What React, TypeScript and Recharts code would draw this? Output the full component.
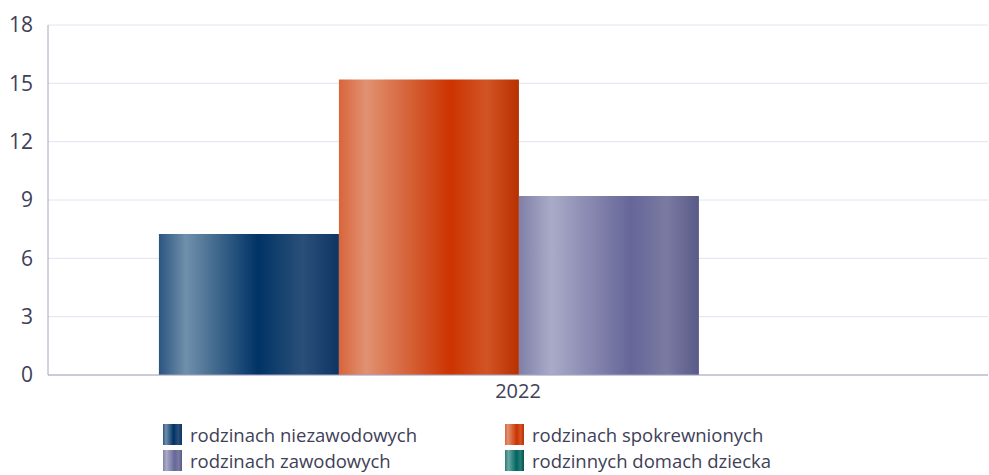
import React from 'react';
import { BarChart, Bar, XAxis, YAxis, CartesianGrid } from 'recharts';

const years = ['2022'];
const seriesNames = [
    'rodzinach niezawodowych',
    'rodzinach spokrewnionych',
    'rodzinach zawodowych',
    'rodzinnych domach dziecka',
];
const seriesValues = [7.25, 15.2, 9.2, 0];
const yTicks = [0, 3, 6, 9, 12, 15, 18];

// gradient stops per series: [offset, colour]
const gradients: [number, string][][] = [
    [[0, '#2b5580'], [0.15, '#7090aa'], [0.55, '#003366'], [0.8, '#2a5078'], [1, '#0d3565']],
    [[0, '#d9643a'], [0.15, '#e09272'], [0.62, '#cc3300'], [0.82, '#d25426'], [1, '#b83000']],
    [[0, '#8080a8'], [0.18, '#aaaac8'], [0.62, '#666699'], [0.82, '#7a7aa2'], [1, '#5a5a88']],
    [[0, '#2a7a78'], [0.18, '#6aa8a4'], [0.6, '#006660'], [0.82, '#2a7a74'], [1, '#005550']],
];

const data = years.map((year) => {
    const row: Record<string, string | number> = { year };
    seriesNames.forEach((_, s) => {
        row[`s${s}`] = seriesValues[s];
    });
    return row;
});

const font = '"Open Sans", "Noto Sans", sans-serif';

const App: React.FC = () => {
    return (
        <div style={{ position: 'absolute', left: 0, top: 0, width: 989, height: 475, background: '#fff', fontFamily: font }}>
            <BarChart
                width={989}
                height={405}
                data={data}
                margin={{ top: 25, right: 1, left: 0, bottom: 0 }}
                barCategoryGap="11.8%"
                barGap={0}
            >
                <defs>
                    {gradients.map((stops, s) => (
                        <linearGradient key={s} id={`grad${s}`} x1="0" y1="0" x2="1" y2="0">
                            {stops.map(([o, c], k) => (
                                <stop key={k} offset={o} stopColor={c} />
                            ))}
                        </linearGradient>
                    ))}
                </defs>
                <CartesianGrid vertical={false} stroke="#e2e2ee" />
                <XAxis
                    dataKey="year"
                    axisLine={{ stroke: '#a4a4c0' }}
                    tickLine={false}
                    height={30}
                    tick={{ fill: '#404058', fontSize: 20, fontFamily: font }}
                    tickMargin={3}
                />
                <YAxis
                    domain={[0, 18]}
                    ticks={yTicks}
                    width={48}
                    axisLine={{ stroke: '#a4a4c0' }}
                    tickLine={false}
                    interval={0}
                    tick={{ fill: '#404058', fontSize: 21, fontFamily: font }}
                    tickMargin={9}
                />
                {seriesNames.map((name, s) => (
                    <Bar
                        key={name}
                        dataKey={`s${s}`}
                        name={name}
                        fill={`url(#grad${s})`}
                        isAnimationActive={false}
                    />
                ))}
            </BarChart>
            <div
                style={{
                    position: 'absolute',
                    left: 163,
                    top: 422,
                    display: 'grid',
                    gridTemplateColumns: '342px 320px',
                    rowGap: 0,
                    fontSize: 18.5,
                    color: '#404058',
                    lineHeight: '25.5px',
                }}
            >
                {seriesNames.map((name, s) => {
                    const stops = gradients[s];
                    const bg = `linear-gradient(to right, ${stops.map(([o, c]) => `${c} ${o * 100}%`).join(', ')})`;
                    return (
                        <div key={name} style={{ display: 'flex', alignItems: 'center' }}>
                            <span style={{ display: 'inline-block', width: 19, height: 21, background: bg, marginRight: 8 }} />
                            <span>{name}</span>
                        </div>
                    );
                })}
            </div>
        </div>
    );
};

export default App;
